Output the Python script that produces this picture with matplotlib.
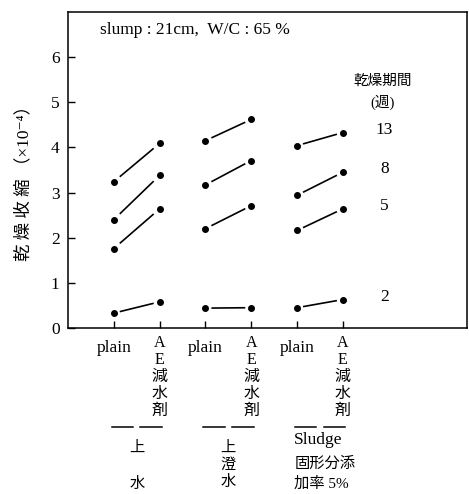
import matplotlib
matplotlib.use("Agg")
import matplotlib.pyplot as plt
import matplotlib.transforms as mtransforms

plt.rcParams['font.family'] = ['Liberation Serif', 'Noto Sans CJK JP', 'DejaVu Serif']

# specimen order: plain / AE water reducer for each mixing water
mix_labels = ["plain", "A\nE\n減\n水\n剤", "plain", "A\nE\n減\n水\n剤", "plain", "A\nE\n減\n水\n剤"]
group_labels = [["上", "水"], ["上", "澄", "水"], ["Sludge", "固形分添", "加率 5%"]]
weeks = ["13", "8", "5", "2"]

# drying shrinkage (x10^-4), one list per drying period
shrink_13 = [3.24, 4.09, 4.15, 4.62, 4.04, 4.33]
shrink_8 = [2.40, 3.38, 3.17, 3.71, 2.94, 3.45]
shrink_5 = [1.76, 2.64, 2.20, 2.71, 2.16, 2.64]
shrink_2 = [0.33, 0.58, 0.44, 0.45, 0.45, 0.63]
series = [shrink_13, shrink_8, shrink_5, shrink_2]

fig = plt.figure(figsize=(4.69, 4.94), dpi=100)
ax = fig.add_axes([68 / 469, 1 - 328 / 494, 399 / 469, 316 / 494])
xpos = list(range(len(mix_labels)))

for vals in series:
    for g in range(3):
        x0, x1 = xpos[2 * g], xpos[2 * g + 1]
        y0, y1 = vals[2 * g], vals[2 * g + 1]
        # connecting segment stops short of the markers
        f0, f1 = 0.13, 0.87
        ax.plot([x0 + f0 * (x1 - x0), x0 + f1 * (x1 - x0)],
                [y0 + f0 * (y1 - y0), y0 + f1 * (y1 - y0)],
                color="black", lw=1.2, solid_capstyle="butt")
        ax.plot([x0, x1], [y0, y1], ls="none", marker="o", ms=4, color="black")

# drying-period labels next to the right-hand points
for w, vals in zip(weeks, series):
    ax.annotate(w, (xpos[-1], vals[-1]), xytext=(30, 2), textcoords="offset points",
                ha="center", va="center", fontsize=12.5)
ax.text(5.87, 5.47, "乾燥期間", ha="center", va="center", fontsize=10.5)
ax.text(5.87, 5.0, "(週)", ha="center", va="center", fontsize=10.5)

ax.text(0.08, 0.943, "slump : 21cm,  W/C : 65 %", transform=ax.transAxes,
        ha="left", va="center", fontsize=12.5)

ax.set_xlim(-1.0, 7.71)
ax.set_ylim(0, 7)
ax.set_yticks(range(0, 7))
ax.set_yticklabels([str(i) for i in range(0, 7)], fontsize=12.5)
ax.set_xticks(xpos)
ax.set_xticklabels([])
ax.tick_params(direction="in", length=5, width=1)
ax.tick_params(axis="y", pad=6)
for s in ax.spines.values():
    s.set_linewidth(1.1)

ax.set_ylabel("乾 燥 收 縮 （×10⁻⁴）", fontsize=12.5)
ax.yaxis.set_label_coords(-0.09, 0.47)

# category and group labels below the axis
tr = mtransforms.blended_transform_factory(ax.transData, fig.transFigure)
for x, lab in zip(xpos, mix_labels):
    if lab == "plain":
        ax.text(x, 1 - 348 / 494, lab, transform=tr, ha="center", va="center", fontsize=12.5)
    else:
        ax.text(x, 1 - 335 / 494, lab, transform=tr, ha="center", va="top",
                fontsize=11.5, linespacing=1.08)

line_rows = [[448, 484], [448, 465, 482], [440, 464, 484]]
for g, (lines, rows) in enumerate(zip(group_labels, line_rows)):
    x0, x1 = xpos[2 * g], xpos[2 * g + 1]
    mid = (x0 + x1) / 2
    yb = 1 - 427 / 494
    ax.plot([x0 - 0.05, mid - 0.08], [yb, yb], transform=tr, color="black", lw=1.1, clip_on=False)
    ax.plot([mid + 0.08, x1 + 0.05], [yb, yb], transform=tr, color="black", lw=1.1, clip_on=False)
    for txt, yp in zip(lines, rows):
        if g < 2:
            ax.text(mid, 1 - yp / 494, txt, transform=tr, ha="center", va="center", fontsize=11)
        else:
            ax.text(x0 - 0.06, 1 - yp / 494, txt, transform=tr, ha="left", va="center",
                    fontsize=12.5 if txt == "Sludge" else 11)

fig.savefig("out.png", dpi=100)
